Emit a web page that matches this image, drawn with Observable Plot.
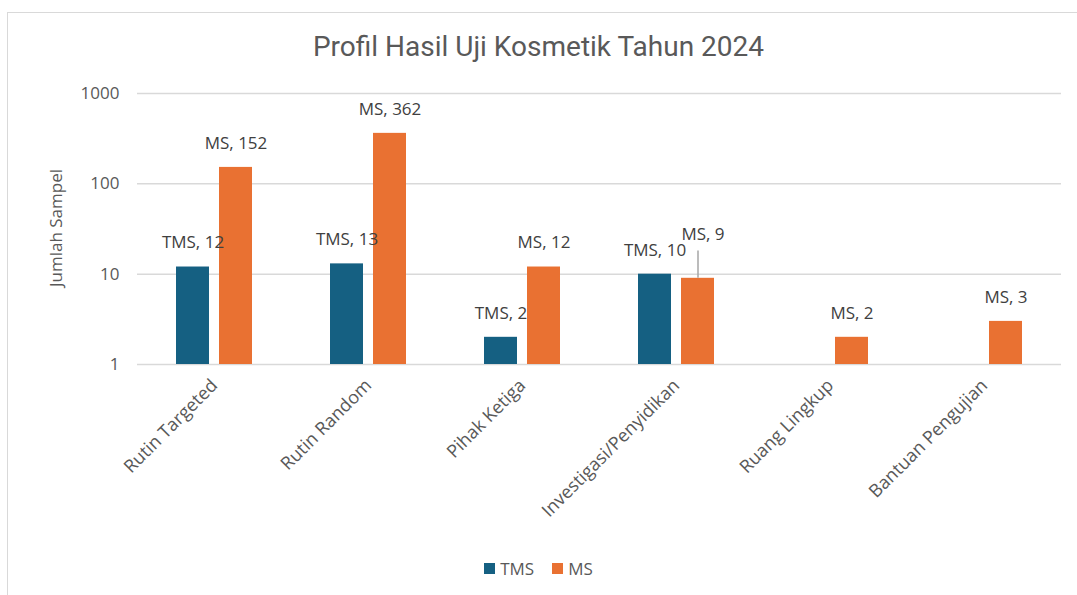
<!DOCTYPE html>
<html>
<head>
<meta charset="utf-8">
<script src="https://cdn.jsdelivr.net/npm/d3@7"></script>
<script src="https://cdn.jsdelivr.net/npm/@observablehq/plot@0.6"></script>
<style>
  html, body { margin: 0; padding: 0; background: #fff; }
  body { width: 1077px; height: 595px; position: relative; overflow: hidden; font-family: "Open Sans", "Noto Sans", sans-serif; }
  #frame { position: absolute; left: 7px; top: 12px; width: 1075px; height: 600px; border: 1px solid #d9d9d9; box-sizing: border-box; }
  #title { position: absolute; left: 0; width: 1077px; top: 30px; text-align: center; font-family: Roboto, sans-serif; font-size: 28px; color: #595959; }
  #ylabel { position: absolute; left: 55px; top: 228px; transform: translate(-50%, -50%) rotate(-90deg); white-space: nowrap; font-size: 17px; color: #595959; }
  #chart { position: absolute; left: 0; top: 80px; }
  #legend { position: absolute; top: 557px; left: 0; width: 1077px; display: flex; justify-content: center; gap: 18px; font-size: 17px; color: #595959; }
  #legend span.item { display: flex; align-items: center; gap: 5px; }
  #legend span.sw { display: inline-block; width: 11px; height: 11px; }
</style>
</head>
<body>
<div id="frame"></div>
<div id="title">Profil Hasil Uji Kosmetik Tahun 2024</div>
<div id="chart"></div>
<div id="ylabel">Jumlah Sampel</div>
<div id="legend"></div>
<script>
const categories = ["Rutin Targeted", "Rutin Random", "Pihak Ketiga", "Investigasi/Penyidikan", "Ruang Lingkup", "Bantuan Pengujian"];
const seriesNames = ["TMS", "MS"];
const tmsValues = [12, 13, 2, 10, null, null];
const msValues = [152, 362, 12, 9, 2, 3];
const yTicks = [1, 10, 100, 1000];
const colors = ["#156082", "#e97132"];

const data = [];
categories.forEach((c, i) => {
  if (tmsValues[i] != null) data.push({category: c, series: "TMS", value: tmsValues[i]});
  if (msValues[i] != null) data.push({category: c, series: "MS", value: msValues[i]});
});
// label that Excel pulled out with a leader line
const isPulled = d => d.category === "Investigasi/Penyidikan" && d.series === "MS";

const chart = Plot.plot({
  width: 1077,
  height: 454,
  marginTop: 13,
  marginBottom: 170,
  marginLeft: 135,
  marginRight: 15,
  style: {fontFamily: "'Open Sans', 'Noto Sans', sans-serif", fontSize: "16px", color: "#595959"},
  fx: {domain: categories, padding: 0, label: null},
  x: {domain: seriesNames, paddingInner: 0.227, paddingOuter: 0.869, axis: null},
  y: {type: "log", domain: [1, 1000], label: null},
  color: {domain: seriesNames, range: colors},
  marks: [
    Plot.gridY(yTicks, {stroke: "#d9d9d9", strokeOpacity: 1, strokeWidth: 1.5}),
    Plot.axisY(yTicks, {tickSize: 0, tickPadding: 18, tickFormat: d3.format("d"), label: null, fontSize: 17}),
    Plot.axisFx({anchor: "bottom", tickSize: 0, tickRotate: -45, tickPadding: 18, label: null, fontSize: 18}),
    Plot.barY(data, {fx: "category", x: "series", y1: 1, y2: "value", fill: "series"}),
    Plot.ruleX(data.filter(isPulled), {fx: "category", x: "series", y1: "value", y2: d => d.value * 2, stroke: "#a6a6a6", strokeWidth: 1.5}),
    Plot.text(data.filter(d => !isPulled(d)), {fx: "category", x: "series", y: "value", text: d => `${d.series}, ${d.value}`, dy: -24, fill: "#404040", fontSize: 17}),
    Plot.text(data.filter(isPulled), {fx: "category", x: "series", y: "value", text: d => `${d.series}, ${d.value}`, dy: -44, dx: 5, fill: "#404040", fontSize: 17})
  ]
});
document.getElementById("chart").appendChild(chart);

const legend = document.getElementById("legend");
seriesNames.forEach((s, i) => {
  const item = document.createElement("span");
  item.className = "item";
  const sw = document.createElement("span");
  sw.className = "sw";
  sw.style.background = colors[i];
  item.appendChild(sw);
  item.appendChild(document.createTextNode(s));
  legend.appendChild(item);
});
</script>
</body>
</html>
